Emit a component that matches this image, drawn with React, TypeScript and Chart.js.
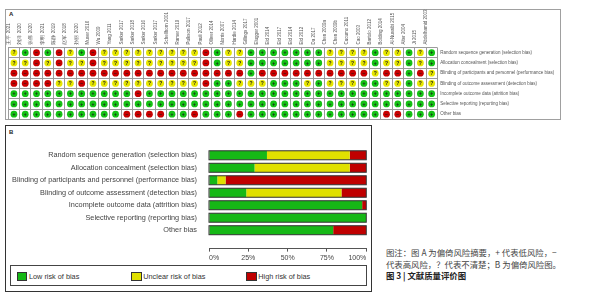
import React, { useEffect, useRef } from 'react';
import { Chart, registerables } from 'chart.js';

Chart.register(...registerables);
Chart.defaults.font.family = '"Liberation Sans", Arial, sans-serif';

// ---------- Panel A: risk of bias summary ----------
const studies = [
  '王平 2021', '刘洋 2020', '张伟 2020', '李明 2021', '陈静 2019', '赵军 2018', '孙丽 2020',
  'Muser 2016', 'Wu 2009', 'Yang 2011', 'Sarker 2017', 'Sarker 2018', 'Sarker 2016', 'Sarker 2017',
  'Schellhorn 2001', 'Ramer 2019', 'Pulkson 2017', 'Pauli 2012', 'Olliver 2014', 'Norris 2007',
  'Hardie 2014', 'Gillings 2017', 'Elugger 2001', 'Eid 2014', 'Eid 2017', 'Eid 2014', 'Eid 2012',
  'Da 2017', 'Chen 2009a', 'Chen 2009b', 'Cucumo 2011', 'Cao 2003', 'Bartolo 2012', 'Bolding 2014',
  'Al-Nusaibi 2015', 'Alter 2004', 'Ji 2015', 'Abdelhamid 2003',
];

const domains = [
  'Random sequence generation (selection bias)',
  'Allocation concealment (selection bias)',
  'Blinding of participants and personnel (performance bias)',
  'Blinding of outcome assessment (detection bias)',
  'Incomplete outcome data (attrition bias)',
  'Selective reporting (reporting bias)',
  'Other bias',
];

// One letter per study (same order as `studies`): L = low, U = unclear, H = high risk
const randomSequence = 'ULHLHULHUUUUUUUUUHLUULLLLLLLUUUULUULUL';
const allocation = 'UUHUHUUHUUUUUUUUUHLUULLLLLLLUUUULUULUL';
const blindingParticipants = 'HHHHHHHHHHHHHHHHHHHHHLHHHHHHHHHHUHHLHU';
const blindingOutcome = 'HHHHUUHUUUUUUUUUUHLLUUULLLULUUULLUULUU';
const incompleteData = 'LLLLLLLLLLLHLLLLLLLLLLLLLLLLLLLLLLLLLL';
const selectiveReporting = 'LLLLLLLLLLLLLLLLLLLLLLLLLLLLLLLLLLLLLL';
const otherBias = 'LLLLLLLLLLHHHHLLHLLLHLLLLLLLLLLLLHHLLL';

const domainRisks = [
  randomSequence, allocation, blindingParticipants, blindingOutcome,
  incompleteData, selectiveReporting, otherBias,
];

// ---------- Panel B: risk of bias graph (percent of studies) ----------
const lowPct = [36.84, 28.95, 5.26, 23.68, 97.37, 100, 78.95];
const unclearPct = [52.63, 60.53, 5.26, 60.53, 0, 0, 0];
const highPct = [10.53, 10.53, 89.48, 15.79, 2.63, 0, 21.05];
const legendLabels = ['Low risk of bias', 'Unclear risk of bias', 'High risk of bias'];

const GREEN_A = '#14c214';
const YELLOW_A = '#e6e600';
const RED_A = '#c80000';
const GREEN = '#16b816';
const YELLOW = '#e0e000';
const RED = '#c00000';

const symbolPlugin = {
  id: 'symbols',
  afterDatasetsDraw(chart: any) {
    const ctx = chart.ctx;
    ctx.save();
    ctx.fillStyle = '#1a1a1a';
    ctx.font = 'bold 5px "Liberation Sans", Arial, sans-serif';
    ctx.textAlign = 'center';
    ctx.textBaseline = 'middle';
    chart.data.datasets.forEach((ds: any, i: number) => {
      chart.getDatasetMeta(i).data.forEach((el: any) => ctx.fillText(ds.symbol, el.x, el.y + 0.3));
    });
    ctx.restore();
  },
};

function RiskSummary() {
  const ref = useRef<HTMLCanvasElement>(null);
  useEffect(() => {
    const pts: Record<string, { x: number; y: number }[]> = { L: [], U: [], H: [] };
    domainRisks.forEach((row, r) => {
      row.split('').forEach((lv, c) => pts[lv].push({ x: c + 0.5, y: r + 0.5 }));
    });
    const gridColor = '#9c9c9c';
    const chart = new Chart(ref.current as HTMLCanvasElement, {
      type: 'scatter',
      data: {
        datasets: [
          { label: 'Low', data: pts.L, backgroundColor: GREEN_A, borderWidth: 0, pointRadius: 3.4, symbol: '+' } as any,
          { label: 'Unclear', data: pts.U, backgroundColor: YELLOW_A, borderWidth: 0, pointRadius: 3.4, symbol: '?' } as any,
          { label: 'High', data: pts.H, backgroundColor: RED_A, borderWidth: 0, pointRadius: 3.4, symbol: '−' } as any,
        ],
      },
      options: {
        animation: false,
        responsive: false,
        events: [],
        layout: { padding: { left: 8.3, right: 0, top: 0, bottom: 5.5 } },
        plugins: { legend: { display: false }, tooltip: { enabled: false } },
        scales: {
          x: {
            type: 'linear', position: 'bottom', min: 0, max: 38,
            ticks: { stepSize: 1, display: false },
            grid: { color: gridColor, drawTicks: false, lineWidth: 1 },
            border: { color: gridColor },
            afterFit: (s: any) => { s.height = 0; },
          },
          y: {
            type: 'linear', position: 'left', min: 0, max: 7, reverse: true,
            ticks: { stepSize: 1, display: false },
            grid: { color: gridColor, drawTicks: false, lineWidth: 1 },
            border: { color: gridColor },
            afterFit: (s: any) => { s.width = 0; },
          },
          xl: {
            type: 'category', labels: studies, position: 'top', offset: true,
            grid: { display: false, drawTicks: false }, border: { display: false },
            ticks: { autoSkip: false, minRotation: 90, maxRotation: 90, font: { size: 4.5 }, color: '#555', padding: 3 },
            afterFit: (s: any) => { s.height = 47.5; },
          },
          yl: {
            type: 'category', labels: domains, position: 'right', offset: true,
            grid: { display: false, drawTicks: false }, border: { display: false },
            ticks: { autoSkip: false, font: { size: 4.5 }, color: '#555', padding: 3 },
            afterFit: (s: any) => { s.width = 166.7; },
          },
        } as any,
      },
      plugins: [symbolPlugin],
    });
    return () => chart.destroy();
  }, []);
  return <canvas ref={ref} width={604} height={125} style={{ position: 'absolute', left: 0, top: 0, width: 604, height: 125 }} />;
}

const outlinePlugin = {
  id: 'barOutline',
  afterDatasetsDraw(chart: any) {
    const ctx = chart.ctx;
    const xs = chart.scales.x;
    const x0 = xs.getPixelForValue(0);
    const x1 = xs.getPixelForValue(100);
    ctx.save();
    ctx.strokeStyle = '#333';
    ctx.lineWidth = 1;
    chart.getDatasetMeta(0).data.forEach((el: any) => {
      const h = el.height;
      ctx.strokeRect(x0, el.y - h / 2, x1 - x0, h);
    });
    ctx.restore();
  },
};

function RiskGraph() {
  const ref = useRef<HTMLCanvasElement>(null);
  useEffect(() => {
    const mk = (label: string, vals: number[], color: string) => ({
      label,
      data: vals.map((v, i) => ({ x: v, y: i })),
      backgroundColor: color,
      borderWidth: 0,
      barPercentage: 0.9,
      categoryPercentage: 0.8,
    });
    const chart = new Chart(ref.current as HTMLCanvasElement, {
      type: 'bar',
      data: {
        datasets: [
          mk(legendLabels[0], lowPct, GREEN),
          mk(legendLabels[1], unclearPct, YELLOW),
          mk(legendLabels[2], highPct, RED),
        ] as any,
      },
      options: {
        indexAxis: 'y',
        animation: false,
        responsive: false,
        events: [],
        layout: { padding: { left: 0, right: 5.7, top: 4.8, bottom: 0 } },
        plugins: { legend: { display: false }, tooltip: { enabled: false } },
        scales: {
          x: {
            type: 'linear', stacked: true, min: 0, max: 100,
            ticks: {
              stepSize: 25, align: 'inner', color: '#444', font: { size: 7 }, padding: 2,
              callback: (v: any) => v + '%',
            },
            grid: { drawOnChartArea: false, drawTicks: true, tickLength: 3, color: '#555' },
            border: { display: true, color: '#555' },
            afterFit: (s: any) => { s.height = 15; },
          },
          y: {
            type: 'linear', stacked: true, min: -0.5, max: 6.86, reverse: true,
            ticks: {
              stepSize: 1, includeBounds: false, autoSkip: false, color: '#444',
              font: { size: 7.3 }, padding: 12,
              callback: (v: any) => (domains[v] !== undefined ? domains[v] : ''),
            },
            grid: { display: false, drawTicks: false },
            border: { display: false },
            afterFit: (s: any) => { s.width = 209; },
          },
        } as any,
      },
      plugins: [outlinePlugin],
    });
    return () => chart.destroy();
  }, []);
  return <canvas ref={ref} width={372} height={140} style={{ position: 'absolute', left: 0, top: 125, width: 372, height: 140 }} />;
}

const legendColors = [GREEN, YELLOW, RED];
const legendX = [16.7, 131, 246];

export default function App() {
  const sans = '"Liberation Sans", Arial, sans-serif';
  const cjk = '"Noto Sans CJK SC", sans-serif';
  return (
    <div style={{ position: 'absolute', left: 0, top: 0, width: 604, height: 300, background: '#fff', overflow: 'hidden' }}>
      {/* Panel A frame */}
      <div style={{ position: 'absolute', left: 5, top: 9, width: 556, height: 111, border: '1px solid #a0a0a0', boxSizing: 'border-box' }} />
      <div style={{ position: 'absolute', left: 9, top: 11, fontFamily: sans, fontSize: 6, fontWeight: 'bold', color: '#222' }}>A</div>
      <RiskSummary />
      {/* Panel B frame */}
      <div style={{ position: 'absolute', left: 4.7, top: 125, width: 367.6, height: 167, border: '1px solid #333', boxSizing: 'border-box' }} />
      <div style={{ position: 'absolute', left: 9, top: 128.5, fontFamily: sans, fontSize: 6, fontWeight: 'bold', color: '#222' }}>B</div>
      <RiskGraph />
      {/* Legend */}
      <div style={{ position: 'absolute', left: 10, top: 265, width: 356.7, height: 21, border: '1px solid #444', boxSizing: 'border-box' }} />
      {legendLabels.map((t, i) => (
        <React.Fragment key={t}>
          <div style={{ position: 'absolute', left: legendX[i], top: 271.7, width: 10.6, height: 9.3, background: legendColors[i], border: '1px solid #333', boxSizing: 'border-box' }} />
          <div style={{ position: 'absolute', left: legendX[i] + 12.3, top: 271.5, lineHeight: '10px', fontFamily: sans, fontSize: 7.3, color: '#333', whiteSpace: 'nowrap' }}>{t}</div>
        </React.Fragment>
      ))}
      {/* Caption */}
      <div style={{ position: 'absolute', left: 386, top: 246, lineHeight: '12px', fontFamily: cjk, fontSize: 8.4, color: '#444', whiteSpace: 'nowrap' }}>图注：图 A 为偏倚风险摘要，+ 代表低风险，−</div>
      <div style={{ position: 'absolute', left: 386, top: 257.5, lineHeight: '12px', fontFamily: cjk, fontSize: 8.4, color: '#444', whiteSpace: 'nowrap' }}>代表高风险，？代表不清楚；B 为偏倚风险图。</div>
      <div style={{ position: 'absolute', left: 386, top: 269, lineHeight: '12px', fontFamily: cjk, fontSize: 8.4, fontWeight: 'bold', color: '#222', whiteSpace: 'nowrap' }}>图 3 | 文献质量评价图</div>
    </div>
  );
}
